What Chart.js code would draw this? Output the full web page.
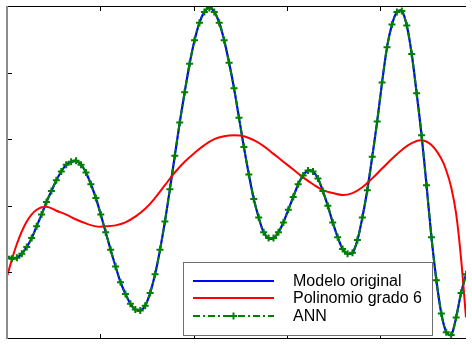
<!DOCTYPE html>
<html>
<head>
<meta charset="utf-8">
<script src="https://cdn.jsdelivr.net/npm/chart.js@4.4.0/dist/chart.umd.min.js"></script>
<style>
  html, body { margin: 0; padding: 0; background: #fff; }
  #wrap { width: 472px; height: 345px; }
</style>
</head>
<body>
<div id="wrap"><canvas id="chart"></canvas></div>
<script>
// nombres de las series
var seriesNames = ['Modelo original', 'Polinomio grado 6', 'ANN'];

// posiciones de las marcas de los ejes (sin etiquetas)
var xTicks = [18.9, 37.8, 56.7, 75.6];
var yTicks = [68, 136, 204, 272];

// muestras del modelo original (indice 0..93)
var modelValues = [84, 82, 83, 87, 94, 103, 115, 127, 140, 151, 162, 171, 178, 181,
  182, 178, 170, 158, 144, 127, 109, 91, 74, 58, 46, 36, 30,
  29, 34, 47, 66, 91, 120, 153, 187, 221, 252, 281, 305, 323, 334,
  338, 334, 323, 305, 282, 256, 226, 196, 168, 143, 124, 109, 103,
  103, 109, 119, 132, 145, 158, 167, 172,
  171, 164, 151, 136, 119, 104, 92, 87,
  88, 101, 124, 152, 186, 222, 262, 298, 321, 334,
  335, 320, 291, 251, 208, 157, 104, 60, 26, 7,
  4, 22, 47, 66];

// salida de la red neuronal (practicamente igual al modelo)
var annValues = [84, 82, 83, 87, 94, 103, 115, 127, 140, 151, 162, 171, 178, 181,
  182, 178, 170, 158, 144, 127, 109, 91, 74, 58, 46, 36, 30,
  29, 34, 47, 66, 91, 120, 153, 187, 221, 252, 281, 305, 323, 334,
  338, 334, 323, 305, 282, 256, 226, 196, 168, 143, 124, 109, 103,
  103, 109, 119, 132, 145, 158, 167, 172,
  171, 164, 151, 136, 119, 104, 92, 87,
  88, 101, 124, 152, 186, 222, 262, 298, 321, 334,
  335, 320, 291, 251, 208, 157, 104, 60, 26, 7,
  4, 22, 47, 66];

// ajuste polinomico de grado 6
var polyX = [0, 2, 4, 6, 8, 10, 12, 14, 16, 18, 20, 22, 24, 26, 28, 30, 32, 34, 36, 38,
  40, 42, 44, 46, 48, 50, 52, 54, 56, 58, 60, 62, 64, 66, 68, 70, 72, 74, 76, 78,
  80, 82, 84, 86, 88, 89, 90, 91, 92, 93];
var polyValues = [64, 97, 120, 132, 135, 131, 127, 122, 118, 115, 115, 116, 119, 125, 133, 144, 157, 170, 181, 190,
  198, 204, 207, 208, 207, 203, 197, 189, 181, 173, 165, 158, 152, 149, 147, 149, 155, 164, 174, 184,
  193, 200, 203, 198, 184, 172, 155, 128, 82, 22];

var colors = ['#0000ff', '#ff0000', '#008000'];

function toPoints(xs, ys) {
  return ys.map(function(v, i) { return { x: xs ? xs[i] : i, y: v }; });
}

// ejes estilo matlab y leyenda dentro del grafico
var matlabAxes = {
  id: 'matlabAxes',
  afterDraw: function(chart) {
    var ctx = chart.ctx;
    var a = chart.chartArea;
    var xs = chart.scales.x, ys = chart.scales.y;
    ctx.save();
    ctx.lineWidth = 1;
    ctx.strokeStyle = '#000';
    ctx.beginPath();
    ctx.moveTo(a.left, a.top + 0.5); ctx.lineTo(a.right, a.top + 0.5);
    ctx.moveTo(a.left, a.bottom - 0.5); ctx.lineTo(a.right, a.bottom - 0.5);
    xTicks.forEach(function(t) {
      var px = Math.round(xs.getPixelForValue(t)) + 0.5;
      ctx.moveTo(px, a.top); ctx.lineTo(px, a.top + 5);
      ctx.moveTo(px, a.bottom); ctx.lineTo(px, a.bottom - 5);
    });
    yTicks.forEach(function(t) {
      var py = Math.round(ys.getPixelForValue(t)) + 0.5;
      ctx.moveTo(a.left, py); ctx.lineTo(a.left + 5, py);
    });
    ctx.stroke();
    ctx.strokeStyle = '#8c8c8c';
    ctx.lineWidth = 2;
    ctx.beginPath();
    ctx.moveTo(a.left, a.top); ctx.lineTo(a.left, a.bottom);
    ctx.stroke();

    // leyenda
    var bx = 183.5, by = 262.5, bw = 249, bh = 73;
    ctx.fillStyle = '#fff';
    ctx.fillRect(bx, by, bw, bh);
    ctx.strokeStyle = '#6e6e6e';
    ctx.lineWidth = 1;
    ctx.strokeRect(bx, by, bw, bh);
    var rows = [281, 298, 316];
    ctx.font = '16px "Liberation Sans", Arial, sans-serif';
    ctx.textBaseline = 'middle';
    chart.data.datasets.forEach(function(ds, i) {
      var y = rows[i];
      ctx.strokeStyle = ds.borderColor;
      ctx.lineWidth = 2;
      ctx.setLineDash(ds.borderDash || []);
      ctx.beginPath();
      ctx.moveTo(193, y); ctx.lineTo(274, y);
      ctx.stroke();
      ctx.setLineDash([]);
      if (ds.pointStyle === 'cross') {
        ctx.lineWidth = 2;
        ctx.beginPath();
        ctx.moveTo(233.5, y - 3.5); ctx.lineTo(233.5, y + 3.5);
        ctx.moveTo(230, y); ctx.lineTo(237, y);
        ctx.stroke();
      }
      ctx.fillStyle = '#000';
      ctx.fillText(ds.label, 293, y + 1);
    });
    ctx.restore();
  }
};

var ctx = document.getElementById('chart').getContext('2d');
new Chart(ctx, {
  type: 'line',
  data: {
    datasets: [{
      label: seriesNames[0],
      data: toPoints(null, modelValues),
      borderColor: colors[0],
      borderWidth: 2.2,
      pointRadius: 0,
      tension: 0.3,
      order: 3
    }, {
      label: seriesNames[1],
      data: toPoints(polyX, polyValues),
      borderColor: colors[1],
      borderWidth: 2,
      pointRadius: 0,
      tension: 0.4,
      order: 2
    }, {
      label: seriesNames[2],
      data: toPoints(null, annValues),
      borderColor: colors[2],
      borderWidth: 2,
      borderDash: [7, 3, 2, 3],
      pointStyle: 'cross',
      pointRadius: 3.5,
      pointBorderWidth: 2,
      pointBorderColor: colors[2],
      tension: 0.3,
      order: 1
    }]
  },
  options: {
    responsive: true,
    maintainAspectRatio: false,
    animation: false,
    layout: { padding: { left: 7, top: 2, right: 0, bottom: 3 } },
    plugins: { legend: { display: false }, tooltip: { enabled: false } },
    scales: {
      x: { type: 'linear', min: 0, max: 93, display: false },
      y: { type: 'linear', min: 0, max: 340, display: false }
    }
  },
  plugins: [matlabAxes]
});
</script>
</body>
</html>
